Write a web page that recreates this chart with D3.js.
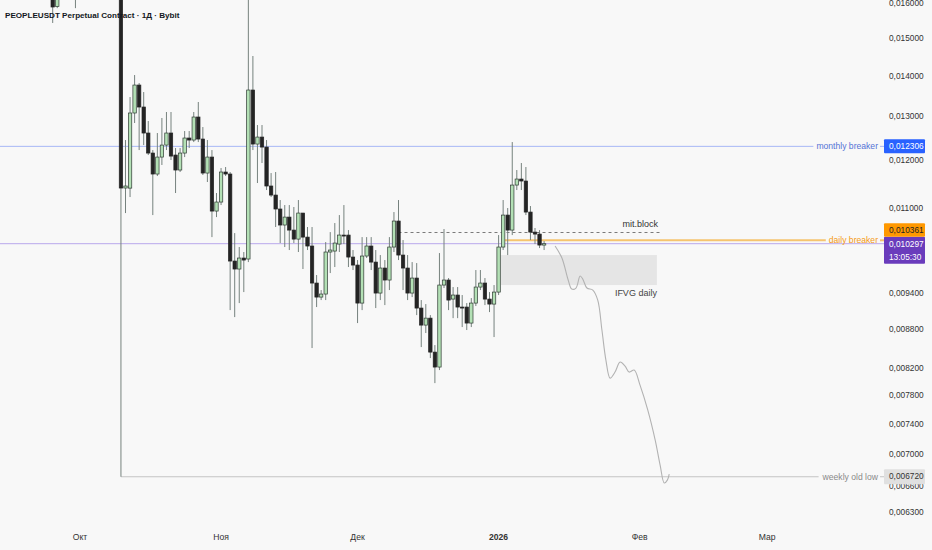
<!DOCTYPE html>
<html><head><meta charset="utf-8">
<script src="https://cdn.jsdelivr.net/npm/d3@7"></script>
<style>
html,body{margin:0;padding:0;background:#f8f8f8;}
svg{display:block;font-family:"Liberation Sans",Arial,sans-serif;}
</style></head>
<body><svg id="c" width="932" height="550"></svg>
<script>
// ---------- DATA ----------
const leadDates = ["2025-09-25","2025-09-26","2025-09-30"];
const dailyStart = "2025-10-10"; // consecutive daily candles from here
const opens = [0.0166,0.0159,0.0168,
 0.0178,0.011402,0.0114,0.013081,0.013768,0.013225,0.01261,0.012156,0.011698,0.012067,0.012335,0.01261,0.012112,0.011784,0.012156,0.012495,0.012449,0.012985,0.012472,0.011719,0.012067,0.010931,
 0.011113,0.011741,0.011698,0.009975,0.00983,0.01003,0.010012,0.013643,0.012358,0.012517,0.01229,0.011444,0.011256,0.010972,0.010655,0.010811,0.010557,0.010384,0.010891,0.010422,0.010253,0.009581,0.009338,0.00939,0.010141,0.010159,0.01029,0.010461,0.010461,0.010048,
 0.009902,0.009236,0.010067,0.010253,0.009956,0.009407,0.009848,0.009634,0.010234,0.010733,0.010085,0.009848,0.009407,0.009669,0.009152,0.008871,0.008985,0.008443,0.008215,0.009546,0.009634,0.009304,0.009373,0.009169,0.009169,0.008904,0.009236,0.009511,0.009581,0.009304,0.009219,
 0.009424,0.010234,0.010851,0.010557,0.011464,0.011591,0.011549,0.010911,0.010518,0.01048,0.010271];
const highs = [0.017,0.0169,0.0172,
 0.0182,0.012449,0.013469,0.014023,0.013819,0.013593,0.01289,0.012223,0.01261,0.012962,0.013105,0.013105,0.012268,0.012268,0.012656,0.012656,0.013105,0.013347,0.012749,0.012449,0.012223,0.011298,
 0.011827,0.011849,0.011741,0.010499,0.010234,0.010141,0.017,0.01452,0.012796,0.012796,0.012449,0.011719,0.011741,0.011154,0.011052,0.011052,0.011012,0.011154,0.010891,0.010616,0.010616,0.009723,0.009459,0.010328,0.010518,0.010694,0.010851,0.011052,0.010557,0.010178,
 0.009993,0.010422,0.010422,0.010422,0.010178,0.010085,0.009993,0.010422,0.010911,0.011154,0.010366,0.010085,0.009956,0.009938,0.009287,0.009219,0.009035,0.008552,0.010122,0.010577,0.009669,0.009511,0.009511,0.009373,0.009236,0.009321,0.009812,0.009812,0.009669,0.009424,0.009546,
 0.010461,0.011154,0.010992,0.012403,0.011784,0.011936,0.011849,0.011032,0.010597,0.010557,0.010347];
const lows = [0.015425,0.01585,0.01585,
 0.00672,0.010891,0.011215,0.012843,0.012223,0.012335,0.012112,0.010851,0.011655,0.011893,0.012223,0.012002,0.011298,0.011741,0.012067,0.012268,0.012403,0.012403,0.011677,0.011528,0.010422,0.010811,
 0.011052,0.011655,0.009118,0.009002,0.009236,0.009424,0.009956,0.012223,0.011507,0.011936,0.01136,0.011215,0.010616,0.010309,0.010234,0.010178,0.010309,0.010141,0.00983,0.010178,0.008506,0.009169,0.009287,0.009287,0.009758,0.009866,0.010141,0.01029,0.009866,0.009812,
 0.008904,0.009118,0.01003,0.009812,0.009152,0.009287,0.009202,0.009459,0.010141,0.009993,0.009459,0.009287,0.009338,0.009035,0.008521,0.008743,0.008351,0.007977,0.00817,0.009494,0.009118,0.008985,0.008985,0.008839,0.008791,0.008839,0.009186,0.009459,0.009202,0.009085,0.008679,
 0.009373,0.010178,0.010085,0.010461,0.01136,0.01136,0.010851,0.010366,0.01029,0.010215,0.010178];
const closes = [0.015883,0.0163,0.017,
 0.011402,0.011444,0.013081,0.013768,0.013225,0.01261,0.012156,0.011698,0.012067,0.012335,0.01261,0.012089,0.011784,0.012156,0.012495,0.012449,0.012985,0.012472,0.011719,0.012067,0.010931,0.011113,
 0.011741,0.011698,0.009975,0.00983,0.01003,0.009993,0.013643,0.012358,0.012517,0.01229,0.011444,0.011256,0.010972,0.010655,0.010811,0.010557,0.010384,0.010891,0.010422,0.010253,0.009581,0.009338,0.00939,0.010141,0.010178,0.010309,0.010461,0.010442,0.010048,0.009902,
 0.009236,0.010067,0.010253,0.009956,0.009407,0.009848,0.009634,0.010234,0.010733,0.010085,0.009848,0.009407,0.009669,0.009152,0.008871,0.008985,0.008443,0.008215,0.009546,0.009634,0.009287,0.009373,0.009169,0.00916,0.008904,0.009236,0.009511,0.009581,0.009304,0.009219,0.009424,
 0.010234,0.010851,0.010557,0.011464,0.011591,0.011549,0.010911,0.010518,0.01048,0.010271,0.010297];

const priceTicks = [0.016,0.015,0.014,0.013,0.012,0.011,0.0094,0.0088,0.0082,0.0078,0.0074,0.0070,0.0066,0.0063];
const monthTickDates = ["2025-10-01","2025-11-01","2025-12-01","2026-01-01","2026-02-01","2026-03-01"];
const monthTickLabels = ["Окт","Ноя","Дек","2026","Фев","Мар"];

const projDates = ["2026-01-13T10","2026-01-14T22","2026-01-16T07","2026-01-17T02","2026-01-18T00","2026-01-18T22","2026-01-19T12","2026-01-20T10","2026-01-21T17","2026-01-22T19","2026-01-23T17","2026-01-24T14","2026-01-25T12","2026-01-26T14","2026-01-27T17","2026-01-28T19","2026-01-29T17","2026-01-30T19","2026-02-01T02","2026-02-02T19","2026-02-04T10","2026-02-05T12","2026-02-06T10","2026-02-07T02","2026-02-07T12"];
const projPrices = [0.010253,0.01003,0.009634,0.009476,0.009494,0.009704,0.009651,0.009494,0.009459,0.009287,0.008791,0.008321,0.00805,0.00814,0.008291,0.00823,0.00814,0.00817,0.007948,0.007593,0.007187,0.006865,0.006643,0.006679,0.006753];

const monthlyBreaker = 0.012306;
const dailyBreaker = 0.010361;
const weeklyOldLow = 0.00672;
const mitBlock = 0.01051;
const currentPrice = 0.010297;
const countdown = "13:05:30";
const ifvgTop = 0.010085, ifvgBottom = 0.009546;
const lineStarts = {monthly:"2025-09-10T00", daily:"2026-01-02T10", weekly:"2025-10-10T00", mit:"2025-12-10T00"};
const mitEnd = "2026-02-05T12";
const ifvgStart = "2026-01-01T12", ifvgEnd = "2026-02-04T19";
const title = "PEOPLEUSDT Perpetual Contract · 1Д · Bybit";

// ---------- BUILD ----------
const pD = d3.utcParse("%Y-%m-%d"), pH = d3.utcParse("%Y-%m-%dT%H");
const candleDates = leadDates.map(pD);
const n = opens.length;
for (let i = 0; candleDates.length < n; i++) candleDates.push(d3.utcDay.offset(pD(dailyStart), i));
const candles = candleDates.map((d,i)=>({d,o:opens[i],h:highs[i],l:lows[i],c:closes[i]}));

const x = d3.scaleUtc().domain([pD("2025-10-01"), pD("2026-03-01")]).range([80, 80 + 151*4.55]);
const y = d3.scaleLog().domain([0.016, 0.0063]).range([3, 512]);
const fmt = v => d3.format(".6f")(v).replace(".", ",");

const svg = d3.select("#c");
svg.append("rect").attr("width",932).attr("height",550).attr("fill","#f8f8f8");

const plot = svg.append("g");
// IFVG box
plot.append("rect").attr("x", x(pH(ifvgStart))).attr("y", y(ifvgTop))
  .attr("width", x(pH(ifvgEnd)) - x(pH(ifvgStart))).attr("height", y(ifvgBottom)-y(ifvgTop))
  .attr("fill","#e5e5e5");

const labelRight = 878;
function levelLine(price, start, color, width, text, textColor) {
  const t = svg.append("text").attr("x", labelRight).attr("y", y(price)).attr("dy","0.35em")
    .attr("text-anchor","end").attr("font-size",8.6).attr("fill",textColor).text(text);
  const bb = t.node().getBBox();
  plot.append("line").attr("x1", Math.max(0,x(pH(start)))).attr("x2", bb.x - 3)
    .attr("y1", y(price)).attr("y2", y(price)).attr("stroke", color).attr("stroke-width", width);
  plot.append("line").attr("x1", labelRight + 2).attr("x2", 884)
    .attr("y1", y(price)).attr("y2", y(price)).attr("stroke", color).attr("stroke-width", width);
}
// current price line
plot.append("line").attr("x1",0).attr("x2",884).attr("y1",y(currentPrice)).attr("y2",y(currentPrice))
  .attr("stroke","#b9a8ec").attr("stroke-width",1);
levelLine(monthlyBreaker, lineStarts.monthly, "#a7b7f6", 1, "monthly breaker", "#5473d6");
levelLine(dailyBreaker, lineStarts.daily, "#f6c46f", 2, "daily breaker", "#f59a14");
levelLine(weeklyOldLow, lineStarts.weekly, "#c4c4c4", 1, "weekly old low", "#8a8a8a");

// mit block dashed
plot.append("line").attr("x1", x(pH(lineStarts.mit))).attr("x2", x(pH(mitEnd)))
  .attr("y1", y(mitBlock)).attr("y2", y(mitBlock)).attr("stroke","#7a7a7a").attr("stroke-width",1.2)
  .attr("stroke-dasharray","3,3");
svg.append("text").attr("x", x(pH(mitEnd))-2).attr("y", y(mitBlock)-6).attr("text-anchor","end")
  .attr("font-size",9).attr("fill","#333").text("mit.block");
svg.append("text").attr("x", x(pH(ifvgEnd))).attr("y", y(ifvgBottom)+11).attr("text-anchor","end")
  .attr("font-size",9).attr("fill","#444").text("IFVG daily");

// candles
const bw = 3.4;
const cg = plot.append("g");
cg.selectAll("line.w").data(candles).join("line")
  .attr("x1", d=>x(d.d)).attr("x2", d=>x(d.d)).attr("y1", d=>y(d.h)).attr("y2", d=>y(d.l))
  .attr("stroke","#76827e").attr("stroke-width",1);
cg.selectAll("rect.b").data(candles).join("rect")
  .attr("x", d=>x(d.d)-bw/2).attr("width", bw)
  .attr("y", d=>y(Math.max(d.o,d.c)))
  .attr("height", d=>Math.max(1, Math.abs(y(d.o)-y(d.c))))
  .attr("fill", d=> d.c>=d.o ? "#b3e0b5" : "#242424")
  .attr("stroke", d=> d.c>=d.o ? "#2e3a32" : "#242424").attr("stroke-width",0.7);

// projection path
const proj = projDates.map((d,i)=>({d:pH(d), v:projPrices[i]}));
plot.append("path").datum(proj)
  .attr("d", d3.line().x(d=>x(d.d)).y(d=>y(d.v)).curve(d3.curveCatmullRom.alpha(0.5)))
  .attr("fill","none").attr("stroke","#b2b2b2").attr("stroke-width",1.1);

// title
svg.append("text").attr("x",5).attr("y",18).attr("font-size",8.1).attr("font-weight",600)
  .attr("fill","#131722").text(title);

// y axis
const ya = svg.append("g");
ya.selectAll("text").data(priceTicks).join("text")
  .attr("x",889).attr("y",d=>y(d)).attr("dy","0.35em").attr("font-size",8.3).attr("fill","#333")
  .text(fmt);

function priceBox(price, top, h, fill, textColor, lines) {
  const g = svg.append("g");
  g.append("rect").attr("x",884).attr("y",top).attr("width",41).attr("height",h).attr("fill",fill).attr("rx",1);
  lines.forEach((t,i)=> g.append("text").attr("x",889).attr("y", top + 7 + i*13).attr("dy","0.35em")
    .attr("font-size",8.3).attr("fill",textColor).text(t));
}
priceBox(monthlyBreaker, y(monthlyBreaker)-7, 14, "#2962ff", "#fff", [fmt(monthlyBreaker)]);
const curTop = y(currentPrice) - 7;
priceBox(currentPrice, curTop, 27, "#6a3cbc", "#fff", [fmt(currentPrice), countdown]);
priceBox(dailyBreaker, curTop - 13.5, 13.5, "#ff9800", "#222", [fmt(dailyBreaker)]);
priceBox(weeklyOldLow, y(weeklyOldLow)-7.5, 15, "#e0e0e0", "#333", [fmt(weeklyOldLow)]);

// x axis
svg.append("g").selectAll("text").data(monthTickDates).join("text")
  .attr("x", d=>x(pD(d))).attr("y",540).attr("text-anchor","middle").attr("font-size",8.6)
  .attr("fill","#333").attr("font-weight",(d,i)=> monthTickLabels[i]==="2026" ? 700 : 400)
  .text((d,i)=>monthTickLabels[i]);
</script></body></html>
